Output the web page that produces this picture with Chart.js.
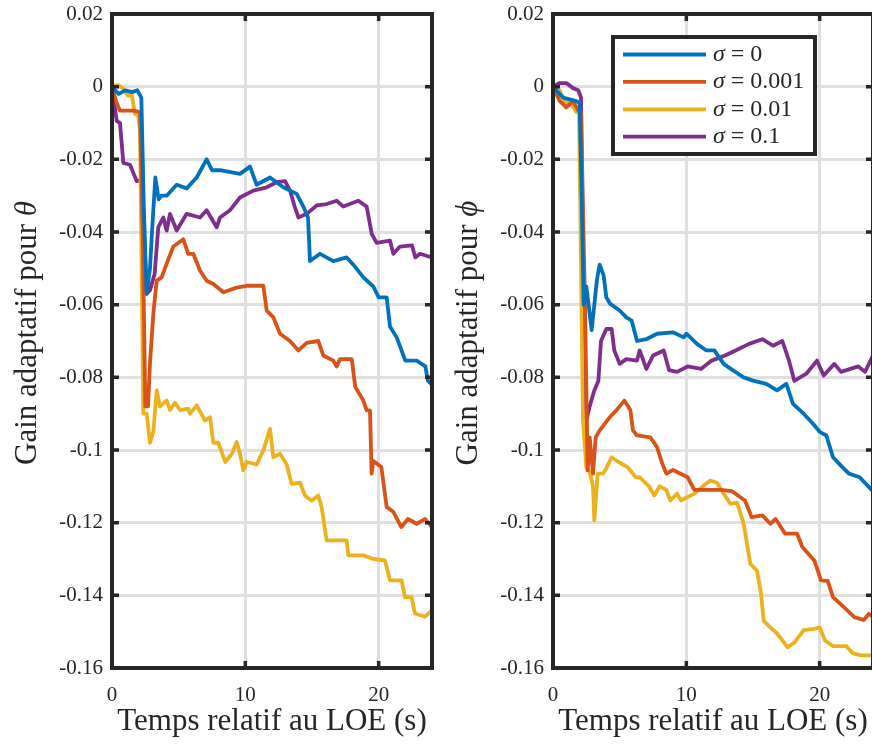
<!DOCTYPE html>
<html><head><meta charset="utf-8">
<script src="https://cdn.jsdelivr.net/npm/chart.js@4/dist/chart.umd.min.js"></script>
<style>
html,body{margin:0;padding:0;background:#fff;overflow:hidden;width:872px;height:744px;position:relative}
canvas{position:absolute;top:0}
</style>
</head><body>
<canvas id="c1" width="436" height="744" style="left:0px"></canvas>
<canvas id="c2" width="436" height="744" style="left:441px"></canvas>
<script>
// ---- tick values / labels ----
const xTicks = [0, 10, 20];
const xTickLabels = ['0', '10', '20'];
const yTicks = [0.02, 0, -0.02, -0.04, -0.06, -0.08, -0.1, -0.12, -0.14, -0.16];
const yTickLabels = ['0.02', '0', '-0.02', '-0.04', '-0.06', '-0.08', '-0.1', '-0.12', '-0.14', '-0.16'];
const legendLabels = ['σ = 0', 'σ = 0.001', 'σ = 0.01', 'σ = 0.1'];
const xTitle = 'Temps relatif au LOE (s)';
const yTitleLeft = ['Gain adaptatif pour ', 'θ'];
const yTitleRight = ['Gain adaptatif pour ', 'ϕ'];

// ---- left panel (theta) ----
const tThetaS0 = [0,0.5,1.0,1.5,1.9,2.2,2.4,2.6,2.85,3.0,3.25,3.5,3.7,4.1,4.85,5.6,6.35,7.1,7.5,8.1,9.6,10.35,10.85,11.85,12.85,13.85,14.35,14.7,14.85,15.6,16.6,17.6,18.1,18.85,19.6,20.0,20.6,20.85,21.35,22.0,22.85,23.5,23.7,24];
const gThetaS0 = [0,-0.002,-0.001,-0.0015,-0.001,-0.003,-0.035,-0.057,-0.05,-0.04,-0.025,-0.031,-0.030,-0.030,-0.027,-0.028,-0.025,-0.020,-0.023,-0.023,-0.024,-0.022,-0.027,-0.025,-0.0277,-0.0295,-0.033,-0.036,-0.048,-0.046,-0.048,-0.047,-0.049,-0.0525,-0.055,-0.058,-0.058,-0.066,-0.069,-0.0754,-0.0754,-0.077,-0.081,-0.082];

const tThetaS1 = [0,0.3,0.6,1.0,1.6,2.1,2.3,2.5,2.7,2.85,3.1,3.35,3.72,4.1,4.6,5.35,5.72,6.1,6.6,7.1,7.6,8.35,9.35,10.1,11.35,11.6,12.1,12.6,13.35,13.98,14.6,15.47,15.85,16.6,16.85,17.1,17.98,18.25,18.85,19.1,19.35,19.47,19.6,20.2,20.6,21.1,21.7,22.2,22.85,23.47,24];
const gThetaS1 = [0,-0.004,-0.0066,-0.0066,-0.0066,-0.007,-0.04,-0.088,-0.088,-0.076,-0.0625,-0.0534,-0.0525,-0.0487,-0.044,-0.042,-0.046,-0.046,-0.0506,-0.0534,-0.0543,-0.0566,-0.0553,-0.0548,-0.0548,-0.0616,-0.0635,-0.068,-0.070,-0.0726,-0.0705,-0.070,-0.074,-0.0754,-0.077,-0.075,-0.075,-0.0827,-0.0864,-0.0891,-0.0891,-0.1065,-0.103,-0.1047,-0.1157,-0.117,-0.1212,-0.119,-0.1203,-0.119,-0.1212];

const tThetaS2 = [0,0.5,0.85,1.2,1.47,1.72,1.97,2.1,2.35,2.6,2.85,3.1,3.35,3.6,4.1,4.35,4.72,5.1,5.72,5.85,6.35,6.97,7.35,7.6,7.97,8.5,9.0,9.35,9.6,9.85,10.1,10.85,11.35,11.85,12.1,12.6,13.1,13.47,14.1,14.47,14.97,15.47,15.72,16.1,16.6,17.6,17.72,18.85,19.6,20.47,20.85,21.72,21.97,22.47,22.72,23.47,24];
const gThetaS2 = [0.0003,0.0004,-0.0006,-0.0025,-0.002,-0.0075,-0.008,-0.012,-0.090,-0.090,-0.098,-0.095,-0.0836,-0.088,-0.0864,-0.089,-0.087,-0.089,-0.0886,-0.090,-0.0877,-0.0919,-0.091,-0.098,-0.098,-0.1033,-0.101,-0.0978,-0.101,-0.1056,-0.1033,-0.104,-0.1001,-0.0942,-0.102,-0.101,-0.104,-0.1093,-0.109,-0.1125,-0.114,-0.1125,-0.1157,-0.1249,-0.1249,-0.1249,-0.129,-0.129,-0.130,-0.1304,-0.1359,-0.1359,-0.1405,-0.1405,-0.145,-0.1459,-0.1441];

const tThetaS3 = [0,0.35,0.6,0.85,1.35,1.85,2.2,2.6,2.85,3.2,3.47,3.85,4.1,4.35,4.85,5.6,6.6,7.1,7.85,8.1,8.85,9.6,10.6,11.6,12.35,12.98,13.35,13.7,13.98,14.6,15.35,16.1,16.85,17.35,18.47,19.1,19.48,19.85,20.85,21.1,21.6,22.5,22.75,23.1,24];
const gThetaS3 = [0,-0.0094,-0.010,-0.021,-0.0215,-0.026,-0.0257,-0.057,-0.056,-0.0515,-0.0387,-0.036,-0.0396,-0.035,-0.0396,-0.035,-0.036,-0.034,-0.0387,-0.036,-0.034,-0.0305,-0.0286,-0.0277,-0.0263,-0.026,-0.0286,-0.033,-0.036,-0.035,-0.0327,-0.0323,-0.0314,-0.033,-0.0314,-0.033,-0.0405,-0.043,-0.0424,-0.046,-0.044,-0.0437,-0.047,-0.046,-0.047];

// ---- right panel (phi) ----
const tPhiS0 = [0,0.75,1.75,2.0,2.15,2.3,2.5,2.9,3.3,3.5,3.8,4.0,4.27,5.0,5.5,5.9,6.3,7.0,7.8,9.0,9.8,10.0,10.8,11.5,12.1,12.8,13.5,14.3,15.0,16.0,16.8,17.5,18.0,18.8,19.5,20.0,20.5,21.0,21.7,22.2,23.0,23.9,24];
const gPhiS0 = [0,-0.003,-0.004,-0.0045,-0.03,-0.06,-0.055,-0.067,-0.053,-0.049,-0.052,-0.058,-0.0597,-0.0616,-0.0635,-0.0644,-0.070,-0.0695,-0.068,-0.0676,-0.069,-0.068,-0.0708,-0.0726,-0.0726,-0.0763,-0.0781,-0.080,-0.0809,-0.0818,-0.0836,-0.0818,-0.0873,-0.090,-0.0928,-0.095,-0.096,-0.102,-0.1047,-0.1065,-0.1075,-0.111,-0.110];

const tPhiS1 = [0,0.5,1.0,1.5,1.9,2.1,2.4,2.6,2.75,3.0,3.2,3.5,4.25,4.75,5.35,5.8,6.0,6.3,7.3,7.8,8.2,8.5,9.0,10.1,10.6,11.6,12.6,13.4,14.4,14.9,15.7,16.3,16.7,17.4,18.3,18.7,19.6,20.1,20.6,21.0,21.8,22.6,23.3,23.7,24];
const gPhiS1 = [0,-0.0039,-0.0057,-0.004,-0.0066,-0.007,-0.06,-0.1056,-0.0965,-0.1065,-0.0965,-0.0946,-0.091,-0.0891,-0.0864,-0.089,-0.0946,-0.096,-0.0965,-0.0992,-0.1038,-0.1065,-0.1055,-0.1075,-0.111,-0.111,-0.111,-0.1113,-0.1139,-0.1185,-0.118,-0.1203,-0.119,-0.123,-0.123,-0.1267,-0.1304,-0.1359,-0.136,-0.1405,-0.1432,-0.146,-0.1468,-0.1451,-0.146];

const tPhiS2 = [0,0.5,1.0,1.25,1.75,1.95,2.25,2.5,2.75,3.0,3.1,3.35,3.75,4.0,4.4,5.0,5.6,6.2,6.5,7.2,7.6,8.0,8.5,8.8,9.3,9.6,10.6,11.3,11.8,12.3,12.8,13.3,13.8,14.3,14.8,15.3,15.6,15.8,16.3,16.8,17.2,17.6,18.1,18.8,19.6,20.0,20.4,21.0,22.0,22.5,23.1,24];
const gPhiS2 = [0,-0.001,-0.005,-0.004,-0.007,-0.007,-0.0918,-0.1047,-0.106,-0.110,-0.1194,-0.1065,-0.1065,-0.105,-0.102,-0.1035,-0.1047,-0.1075,-0.1075,-0.110,-0.1125,-0.110,-0.111,-0.1139,-0.112,-0.1139,-0.112,-0.1098,-0.1084,-0.109,-0.112,-0.1148,-0.1145,-0.1203,-0.1313,-0.1332,-0.1395,-0.147,-0.1488,-0.1505,-0.1524,-0.1543,-0.153,-0.1496,-0.1492,-0.1488,-0.1524,-0.154,-0.154,-0.156,-0.1565,-0.1565];

const tPhiS3 = [0,0.5,1.0,1.5,1.9,2.1,2.3,2.5,2.75,3.1,3.4,3.6,4.0,4.4,4.6,5.0,5.5,6.3,6.5,7.0,7.5,8.3,8.7,9.3,10.1,11.1,11.9,12.9,13.7,14.7,15.7,16.5,17.2,17.7,18.1,19.0,19.8,20.3,21.1,21.6,22.9,23.4,24];
const gPhiS3 = [0,0.001,0.001,-0.0004,-0.001,-0.003,-0.06,-0.0918,-0.088,-0.0836,-0.081,-0.070,-0.0667,-0.0667,-0.0726,-0.0763,-0.075,-0.0754,-0.0726,-0.0777,-0.074,-0.0726,-0.078,-0.0785,-0.077,-0.0777,-0.0754,-0.074,-0.0726,-0.0708,-0.0695,-0.0713,-0.070,-0.0754,-0.081,-0.079,-0.0754,-0.0795,-0.0763,-0.0785,-0.077,-0.0785,-0.074];

const colors = ['#0072BD', '#D95319', '#EDB120', '#7E2F8E'];
const FONT = "'Liberation Serif', 'DejaVu Serif', serif";
const INK = '#262626';

function zip(t, g) { return t.map((x, i) => ({ x: x, y: g[i] })); }

function framePlugin(yTitle, withLegend) {
  return {
    id: 'matlabFrame',
    afterDatasetsDraw(chart) {
      const ctx = chart.ctx, a = chart.chartArea;
      const xs = chart.scales.x, ys = chart.scales.y;
      ctx.save();
      ctx.strokeStyle = INK; ctx.lineWidth = 3.5; ctx.lineCap = 'butt';
      const tl = 7;
      ctx.beginPath();
      yTicks.forEach(v => {
        const py = ys.getPixelForValue(v);
        ctx.moveTo(a.left, py); ctx.lineTo(a.left + tl, py);
        ctx.moveTo(a.right, py); ctx.lineTo(a.right - tl, py);
      });
      xTicks.forEach(v => {
        const px = xs.getPixelForValue(v);
        ctx.moveTo(px, a.bottom); ctx.lineTo(px, a.bottom - tl);
        ctx.moveTo(px, a.top); ctx.lineTo(px, a.top + tl);
      });
      ctx.stroke();
      ctx.lineWidth = 4;
      ctx.strokeRect(a.left, a.top, a.right - a.left, a.bottom - a.top);

      ctx.fillStyle = INK;
      ctx.font = "31px " + FONT;
      ctx.textAlign = 'center'; ctx.textBaseline = 'middle';
      ctx.fillText(xTitle, (a.left + a.right) / 2, 722);

      ctx.save();
      ctx.translate(28, 333);
      ctx.rotate(-Math.PI / 2);
      ctx.textAlign = 'left';
      ctx.font = "31px " + FONT;
      const w1 = ctx.measureText(yTitle[0]).width;
      ctx.font = "italic 31px " + FONT;
      const w2 = ctx.measureText(yTitle[1]).width;
      const x0 = -(w1 + w2) / 2;
      ctx.font = "31px " + FONT;
      ctx.fillText(yTitle[0], x0, 0);
      ctx.font = "italic 31px " + FONT;
      ctx.fillText(yTitle[1], x0 + w1, 0);
      ctx.restore();

      if (withLegend) {
        const bx = 172, by = 37, bw = 202, bh = 117;
        ctx.fillStyle = '#fff';
        ctx.fillRect(bx, by, bw, bh);
        ctx.lineWidth = 4; ctx.strokeStyle = INK;
        ctx.strokeRect(bx, by, bw, bh);
        legendLabels.forEach((lab, i) => {
          const ry = 54.5 + i * 27.4;
          ctx.strokeStyle = colors[i]; ctx.lineWidth = 3.8;
          ctx.beginPath(); ctx.moveTo(182, ry); ctx.lineTo(265, ry); ctx.stroke();
          ctx.fillStyle = INK; ctx.textAlign = 'left'; ctx.textBaseline = 'middle';
          ctx.font = "italic 24px " + FONT;
          const s = lab.charAt(0);
          ctx.fillText(s, 272, ry);
          const ws = ctx.measureText(s).width;
          ctx.font = "24px " + FONT;
          ctx.fillText(lab.slice(1), 272 + ws, ry);
        });
      }
      ctx.restore();
    }
  };
}

function makeChart(id, series, yTitle, withLegend) {
  return new Chart(document.getElementById(id), {
    type: 'line',
    data: {
      datasets: series.map((d, i) => ({
        label: legendLabels[i],
        data: d,
        borderColor: colors[i],
        backgroundColor: colors[i],
        borderWidth: 3.8,
        pointRadius: 0,
        tension: 0,
        fill: false,
        borderJoinStyle: 'round'
      }))
    },
    options: {
      responsive: false,
      animation: false,
      devicePixelRatio: 1,
      layout: { padding: { left: 0, right: 4, top: 14, bottom: 0 } },
      plugins: { legend: { display: false }, tooltip: { enabled: false }, title: { display: false } },
      scales: {
        x: {
          type: 'linear', min: 0, max: 24,
          afterBuildTicks: sc => { sc.ticks = xTicks.map(v => ({ value: v })); },
          afterFit: sc => { sc.height = 76; sc.paddingLeft = 0; sc.paddingRight = 0; },
          grid: { color: '#dfdfdf', lineWidth: 3, drawTicks: false },
          border: { display: false },
          ticks: {
            font: { family: FONT, size: 21 }, color: INK, padding: 15, maxRotation: 0,
            callback: (v, i) => xTickLabels[i]
          }
        },
        y: {
          type: 'linear', min: -0.16, max: 0.02,
          afterBuildTicks: sc => { sc.ticks = yTicks.slice().reverse().map(v => ({ value: v })); },
          afterFit: sc => { sc.width = 112; sc.paddingTop = 0; sc.paddingBottom = 0; },
          grid: { color: '#dfdfdf', lineWidth: 3, drawTicks: false },
          border: { display: false },
          ticks: {
            font: { family: FONT, size: 21 }, color: INK, padding: 9,
            callback: (v) => yTickLabels[yTicks.findIndex(t => Math.abs(t - v) < 1e-9)]
          }
        }
      }
    },
    plugins: [framePlugin(yTitle, withLegend)]
  });
}

makeChart('c1', [zip(tThetaS0, gThetaS0), zip(tThetaS1, gThetaS1), zip(tThetaS2, gThetaS2), zip(tThetaS3, gThetaS3)], yTitleLeft, false);
makeChart('c2', [zip(tPhiS0, gPhiS0), zip(tPhiS1, gPhiS1), zip(tPhiS2, gPhiS2), zip(tPhiS3, gPhiS3)], yTitleRight, true);
</script>
</body></html>
